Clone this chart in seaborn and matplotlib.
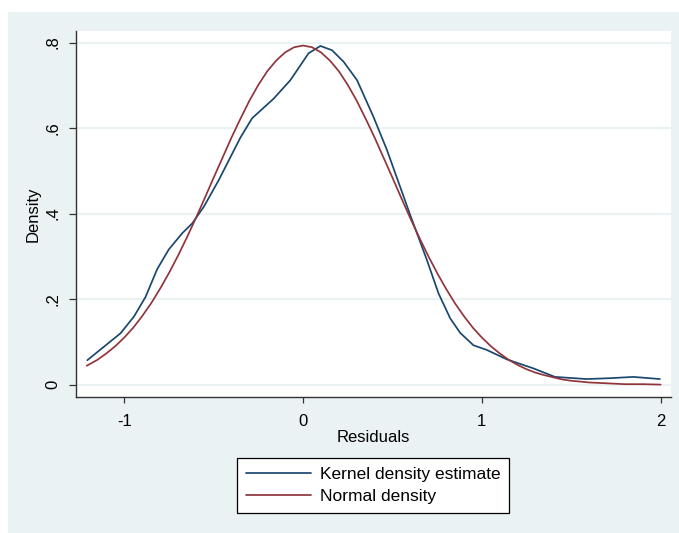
import numpy as np
import pandas as pd
import matplotlib
matplotlib.use("Agg")
import matplotlib.pyplot as plt
import matplotlib.patches as mpatches
import seaborn as sns

# values
kernel_x = [-1.207, -1.021, -0.946, -0.881, -0.816, -0.751, -0.676, -0.620, -0.555, -0.472,
            -0.350, -0.285, -0.164, -0.071, 0.031, 0.097, 0.162, 0.227, 0.302, 0.394,
            0.469, 0.599, 0.693, 0.758, 0.823, 0.879, 0.953, 1.028, 1.140, 1.288,
            1.409, 1.587, 1.717, 1.847, 1.996]
kernel_y = [0.057, 0.120, 0.159, 0.205, 0.270, 0.316, 0.354, 0.377, 0.416, 0.478,
            0.578, 0.623, 0.669, 0.712, 0.775, 0.792, 0.782, 0.755, 0.712, 0.626,
            0.549, 0.397, 0.291, 0.213, 0.155, 0.121, 0.092, 0.081, 0.059, 0.038,
            0.018, 0.013, 0.015, 0.018, 0.013]

normal_x = [-1.21, -1.15, -1.1, -1.05, -1.0, -0.95, -0.9, -0.85, -0.8, -0.75, -0.7, -0.65,
            -0.6, -0.55, -0.5, -0.45, -0.4, -0.35, -0.3, -0.25, -0.2, -0.15, -0.1, -0.05,
            0.0, 0.05, 0.1, 0.15, 0.2, 0.25, 0.3, 0.35, 0.4, 0.45, 0.5, 0.55, 0.6, 0.65,
            0.7, 0.75, 0.8, 0.85, 0.9, 0.95, 1.0, 1.05, 1.1, 1.15, 1.2, 1.25, 1.3, 1.35,
            1.4, 1.45, 1.5, 1.6, 1.7, 1.8, 1.9, 2.0]
normal_y = [0.044, 0.058, 0.073, 0.090, 0.110, 0.133, 0.160, 0.190, 0.224, 0.261, 0.301, 0.344,
            0.389, 0.436, 0.484, 0.531, 0.578, 0.622, 0.664, 0.701, 0.733, 0.758, 0.777, 0.789,
            0.793, 0.789, 0.777, 0.758, 0.733, 0.701, 0.664, 0.622, 0.578, 0.531, 0.484, 0.436,
            0.389, 0.344, 0.301, 0.261, 0.224, 0.190, 0.160, 0.133, 0.110, 0.090, 0.073, 0.058,
            0.046, 0.036, 0.028, 0.022, 0.017, 0.012, 0.009, 0.005, 0.003, 0.001, 0.001, 0.000]

x_ticks = [-1, 0, 1, 2]
y_ticks = [0, 0.2, 0.4, 0.6, 0.8]
y_tick_labels = ["0", ".2", ".4", ".6", ".8"]

labels = ["Kernel density estimate", "Normal density"]
colors = ["#1a476f", "#90353b"]

df = pd.concat([
    pd.DataFrame({"Residuals": kernel_x, "Density": kernel_y, "curve": labels[0]}),
    pd.DataFrame({"Residuals": normal_x, "Density": normal_y, "curve": labels[1]}),
])

sns.set_style("white")
plt.rcParams["font.family"] = ["Liberation Sans", "DejaVu Sans"]
plt.rcParams["text.color"] = "black"
fs = 12

fig = plt.figure(figsize=(6.79, 5.33), dpi=100)
fig.patch.set_facecolor("white")
# Stata-like grey-blue outer region
bg = mpatches.Rectangle((8 / 679, 0), 1, 1 - 12 / 533, transform=fig.transFigure,
                        facecolor="#eaf2f3", edgecolor="none", zorder=-10)
fig.add_artist(bg)

ax = fig.add_axes([76 / 679, 1 - 397 / 533, (671 - 76) / 679, (397 - 31) / 533])
ax.set_zorder(5)
ax.set_facecolor("white")

sns.lineplot(data=df, x="Residuals", y="Density", hue="curve", palette=colors,
             hue_order=labels, ax=ax, linewidth=1.25, sort=False, legend=False)

ax.set_xlim(-1.27, 2.058)
ax.set_ylim(-0.029, 0.827)
ax.set_xticks(x_ticks)
ax.set_xticklabels([str(t) for t in x_ticks], fontsize=fs)
ax.set_yticks(y_ticks)
ax.set_yticklabels(y_tick_labels, fontsize=fs, rotation=90, va="center")
for y in y_ticks:
    ax.axhline(y, color="#eaf2f3", linewidth=1.5, zorder=0)

for s in ["top", "right"]:
    ax.spines[s].set_visible(False)
for s in ["left", "bottom"]:
    ax.spines[s].set_color("#333333")
    ax.spines[s].set_linewidth(1.0)
ax.tick_params(axis="both", direction="out", width=0.9, color="#333333",
               labelcolor="black", left=True, bottom=True)
ax.tick_params(axis="x", length=4.5, pad=7.5)
ax.tick_params(axis="y", length=5, pad=6)

ax.set_xlabel("Residuals", fontsize=fs, labelpad=1, color="black")
ax.set_ylabel("Density", fontsize=fs, labelpad=4, color="black")

handles = [plt.Line2D([], [], color=c, linewidth=1.25) for c in colors]
leg = fig.legend(handles, labels, loc="center", bbox_to_anchor=(373.3 / 679, 1 - 485.5 / 533),
                 fontsize=12.5, frameon=True, fancybox=False, edgecolor="black", framealpha=1,
                 handlelength=3.75, borderpad=0.5, labelspacing=0.42, handletextpad=0.52,
                 borderaxespad=0)
leg.get_frame().set_linewidth(0.9)
leg.get_frame().set_facecolor("white")
leg.set_zorder(6)

fig.savefig("out.png", dpi=100, facecolor=fig.get_facecolor())
